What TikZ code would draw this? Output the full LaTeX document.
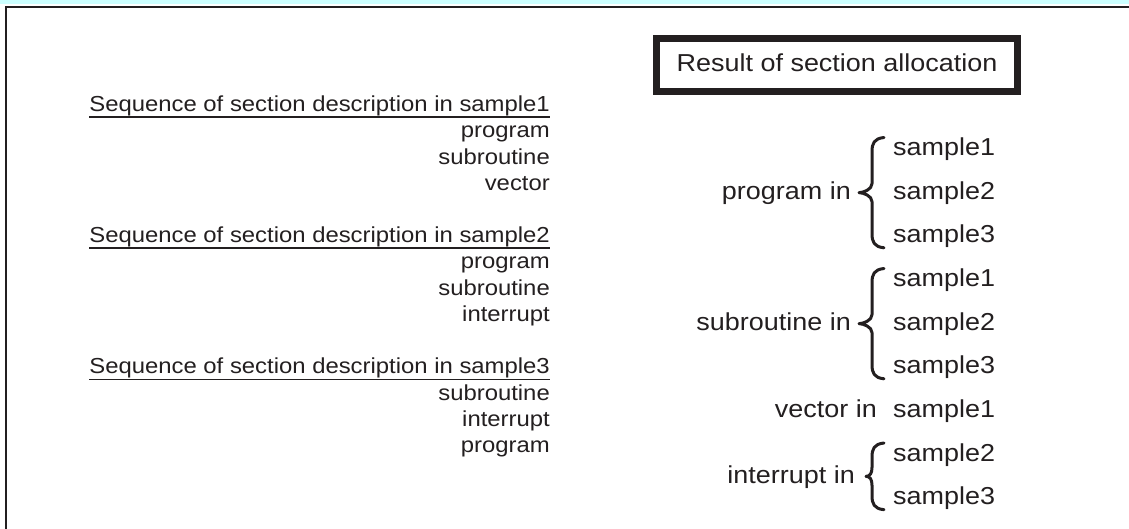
\documentclass[tikz,border=0pt]{standalone}
\usepackage{fontspec}
\setmainfont{Liberation Sans}[FakeStretch=1.1]
\definecolor{ink}{HTML}{231F20}
\definecolor{band}{RGB}{204,255,255}
\tikzset{
  lefttxt/.style={inner sep=0pt, anchor=base east, text=ink, font=\fontsize{21.7}{26}\selectfont},
  righttxt/.style={inner sep=0pt, text=ink, font=\fontsize{24.5}{29}\selectfont},
  samp/.style={righttxt, anchor=base west},
  lbl/.style={righttxt, anchor=base east},
  uline/.style={draw=ink, line width=1.6pt},
  bracestyle/.style={draw=ink, line width=3pt, line cap=round, line join=round},
  framestyle/.style={draw=ink, line width=2.3pt, line join=miter},
  boxstyle/.style={draw=ink, line width=7pt, minimum width=361pt, minimum height=53pt, inner sep=0pt},
}
\newcommand{\drawcurly}[4]{% #1 tip x, #2 end x, #3 top y, #4 bottom y
  \pgfmathsetmacro{\bmidy}{(#3+#4)/2}
  \pgfmathsetmacro{\bstem}{#2-12}
  \draw[bracestyle] (#2,#3) .. controls (\bstem+2,#3+1) and (\bstem,#3+6) .. (\bstem,#3+14)
    -- (\bstem,\bmidy-9) .. controls (\bstem,\bmidy-3) and (#1+4,\bmidy) .. (#1,\bmidy)
    .. controls (#1+4,\bmidy) and (\bstem,\bmidy+3) .. (\bstem,\bmidy+9)
    -- (\bstem,#4-14) .. controls (\bstem,#4-6) and (\bstem+2,#4-1) .. (#2,#4);
}
\begin{document}
\begin{tikzpicture}[x=1pt,y=-1pt]
\useasboundingbox (0,0) rectangle (1129,529);
% frame
\fill[band] (0,0) rectangle (1129,4.3);
\coordinate (fbl) at (6.2,529);
\coordinate (ftl) at (6.2,6.9);
\coordinate (ftr) at (1129,6.9);
\draw[framestyle] (fbl) -- (ftl) -- (ftr);

% left column
\node[lefttxt] (h1) at (550,111.8) {Sequence of section description in sample1};
\draw[uline] ([yshift=-5.5pt]h1.base west) -- ([yshift=-5.5pt]h1.base east);
\node[lefttxt] (a1) at (550,138.0) {program};
\node[lefttxt] (a2) at (550,164.2) {subroutine};
\node[lefttxt] (a3) at (550,190.4) {vector};

\node[lefttxt] (h2) at (550,242.8) {Sequence of section description in sample2};
\draw[uline] ([yshift=-5.5pt]h2.base west) -- ([yshift=-5.5pt]h2.base east);
\node[lefttxt] (b1) at (550,269.0) {program};
\node[lefttxt] (b2) at (550,295.2) {subroutine};
\node[lefttxt] (b3) at (550,321.4) {interrupt};

\node[lefttxt] (h3) at (550,373.8) {Sequence of section description in sample3};
\draw[uline] ([yshift=-5.5pt]h3.base west) -- ([yshift=-5.5pt]h3.base east);
\node[lefttxt] (c1) at (550,400.0) {subroutine};
\node[lefttxt] (c2) at (550,426.2) {interrupt};
\node[lefttxt] (c3) at (550,452.4) {program};

% result box
\node[boxstyle] (box) at (837,65) {};
\node[righttxt, anchor=base] (res) at (837,72) {Result of section allocation};

% program group
\node[lbl] (pin) at (851,199.2) {program in};
\drawcurly{859}{884}{137.5}{247.8}
\node[samp] (p1) at (893,155.5) {sample1};
\node[samp] (p2) at (893,199.2) {sample2};
\node[samp] (p3) at (893,242.8) {sample3};

% subroutine group
\node[lbl] (sin) at (851,330.1) {subroutine in};
\drawcurly{859}{884}{268.5}{378.8}
\node[samp] (s1) at (893,286.5) {sample1};
\node[samp] (s2) at (893,330.1) {sample2};
\node[samp] (s3) at (893,373.8) {sample3};

% vector
\node[lbl] (vin) at (877,417.4) {vector in};
\node[samp] (v1) at (893,417.4) {sample1};

% interrupt group
\node[lbl] (iin) at (855,483) {interrupt in};
\drawcurly{866}{884}{443}{509.7}
\node[samp] (i2) at (893,461.1) {sample2};
\node[samp] (i3) at (893,504.7) {sample3};
\end{tikzpicture}
\end{document}
